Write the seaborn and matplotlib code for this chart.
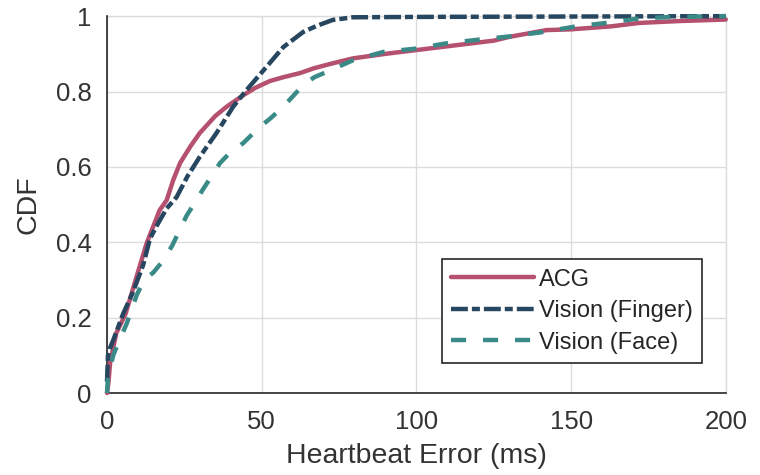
import matplotlib
matplotlib.use("Agg")
import matplotlib.pyplot as plt
import seaborn as sns
import pandas as pd

# ---- data ----
acg_x = [0, 0.5, 1, 3, 6, 9.6, 12.8, 17, 19.3, 21.4, 23.6, 27, 30, 35, 38.7, 44, 48, 52.7,
         57, 62.4, 67, 73, 79.5, 90, 100, 110, 118, 125, 130, 136.7, 142, 150, 163, 172, 185, 200]
acg_y = [0, 0.03, 0.08, 0.159, 0.21, 0.31, 0.397, 0.485, 0.512, 0.565, 0.61, 0.655, 0.69, 0.735,
         0.76, 0.79, 0.81, 0.828, 0.838, 0.849, 0.862, 0.875, 0.888, 0.9, 0.91, 0.92, 0.928, 0.935,
         0.945, 0.955, 0.963, 0.965, 0.973, 0.982, 0.987, 0.991]

finger_x = [0, 0.3, 1, 2, 5.2, 8.5, 11.7, 13.9, 16.5, 19.3, 22.5, 26, 30, 35.4, 40.8, 45.1,
            51.6, 57, 63.4, 68, 73, 79.5, 100, 150, 200]
finger_y = [0.03, 0.1, 0.12, 0.14, 0.21, 0.27, 0.34, 0.41, 0.45, 0.49, 0.52, 0.575, 0.627,
            0.69, 0.76, 0.804, 0.866, 0.918, 0.958, 0.975, 0.99, 0.997, 0.998, 0.999, 1.0]

face_x = [0, 0.3, 2, 4, 6.4, 9.6, 12, 15, 18, 21, 25.7, 31, 36.5, 40, 44, 49.4, 53, 57, 63.4,
          67, 71, 79.5, 89.3, 100, 109.7, 120.5, 131, 141, 151.7, 161.4, 172, 183, 200]
face_y = [0, 0.04, 0.1, 0.14, 0.185, 0.26, 0.3, 0.32, 0.35, 0.39, 0.47, 0.54, 0.61, 0.64,
          0.663, 0.706, 0.73, 0.76, 0.817, 0.838, 0.852, 0.883, 0.905, 0.914, 0.928, 0.938,
          0.947, 0.958, 0.973, 0.982, 0.994, 0.998, 1.0]

labels = ["ACG", "Vision (Finger)", "Vision (Face)"]
x_ticks = [0, 50, 100, 150, 200]
y_ticks = [0, 0.2, 0.4, 0.6, 0.8, 1]
y_tick_labels = ["0", "0.2", "0.4", "0.6", "0.8", "1"]

sns.set_style("white")
plt.rcParams["font.family"] = ["Liberation Sans", "DejaVu Sans"]

fig = plt.figure(figsize=(7.6, 4.75), dpi=100)
ax = fig.add_axes([0.1408, 0.1726, 0.8142, 0.7934])

colors = ["#B5506F", "#274760", "#3A8A88"]
styles = ["-", (0, (3.8, 0.9, 1.8, 0.9)), (0, (3.4, 3.8))]
datasets = [(acg_x, acg_y), (finger_x, finger_y), (face_x, face_y)]

for (xs, ys), lab, c, ls in zip(datasets, labels, colors, styles):
    df = pd.DataFrame({"x": xs, "y": ys})
    sns.lineplot(data=df, x="x", y="y", ax=ax, color=c, linewidth=3.2,
                 linestyle=ls, label=lab, sort=False, estimator=None)
for ln in ax.lines:
    ln.set_clip_on(False)
    ln.set_zorder(3)

ax.set_xlim(0, 200)
ax.set_ylim(0, 1)
ax.set_xticks(x_ticks)
ax.set_yticks(y_ticks)
ax.set_yticklabels(y_tick_labels)
ax.tick_params(axis="both", labelsize=18.5, colors="#333333", direction="in",
               length=5, width=1)
ax.tick_params(axis="x", pad=12)
ax.tick_params(axis="y", pad=11)
ax.grid(True, color="#DCDCDC", linewidth=1)
ax.set_axisbelow(True)
ax.set_xlabel("Heartbeat Error (ms)", fontsize=20.5, color="#333333", labelpad=7)
ax.set_ylabel("CDF", fontsize=20.5, color="#333333", labelpad=10)

for s in ["left", "bottom"]:
    ax.spines[s].set_color("#262626")
    ax.spines[s].set_linewidth(1.2)
for s in ["top", "right"]:
    ax.spines[s].set_color("#DCDCDC")
    ax.spines[s].set_linewidth(1)
    ax.spines[s].set_zorder(1)

leg = ax.legend(loc="upper left", bbox_to_anchor=(0.541, 0.355), fontsize=17,
                frameon=True, fancybox=False, edgecolor="#262626", framealpha=1,
                handlelength=3.5, handletextpad=0.2, borderpad=0.4,
                labelspacing=0.4, borderaxespad=0)
leg.get_frame().set_linewidth(1.2)
leg.set_zorder(5)

fig.savefig("out.png", dpi=100)
